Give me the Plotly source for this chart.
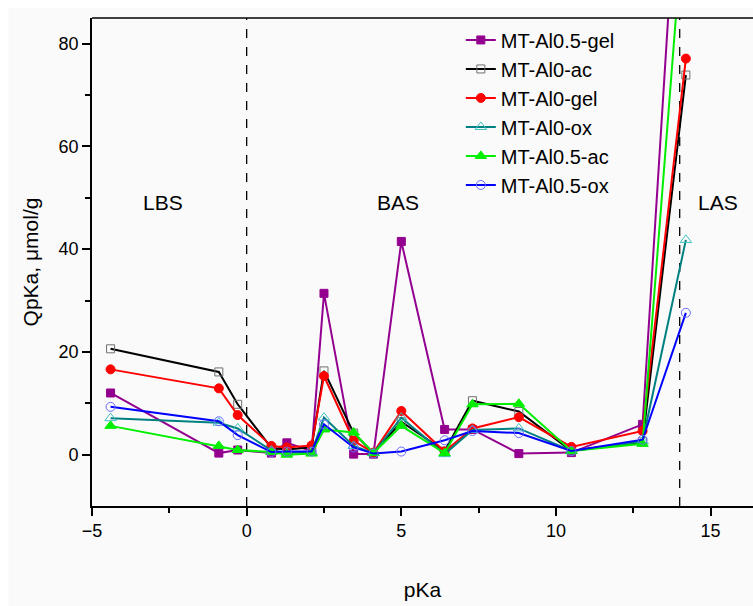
import plotly.graph_objects as go

# pKa values of the Hammett indicators
pka = [-4.4, -0.9, -0.29, 0.8, 1.3, 2.1, 2.5, 3.46, 4.1, 5.0, 6.4, 7.3, 8.8, 10.5, 12.8, 14.2]

# Amount of adsorbed indicator, umol/g
al05_gel = [12.0, 0.3, 0.9, 0.3, 2.3, 0.7, 31.4, 0.1, 0.1, 41.5, 4.9, 4.9, 0.2, 0.4, 5.9, 140.0]
al0_ac = [20.6, 16.1, 9.8, 1.3, 1.0, 1.4, 16.3, 4.2, 0.3, 6.4, 0.7, 10.5, 8.4, 0.7, 2.5, 73.9]
al0_gel = [16.6, 12.9, 7.7, 1.7, 1.4, 1.8, 15.3, 2.7, 0.4, 8.5, 0.6, 5.1, 7.3, 1.5, 4.6, 77.1]
al0_ox = [7.1, 6.2, 5.1, 0.8, 0.3, 0.5, 7.2, 1.7, 0.3, 7.2, 0.1, 4.8, 5.1, 0.7, 2.6, 41.8]
al05_ac = [5.6, 1.7, 0.9, 0.5, 0.0, 0.2, 4.9, 4.3, 0.3, 5.6, 0.3, 9.8, 9.9, 0.7, 2.1, 110.0]
al05_ox = [9.3, 6.5, 3.8, 0.5, 0.6, 0.6, 5.9, 1.4, 0.2, 0.6, 2.8, 4.6, 4.2, 0.7, 2.9, 27.6]

series = [
    ("MT-Al0.5-gel", al05_gel, "#93008f", dict(symbol="square", size=8, color="#93008f")),
    ("MT-Al0-ac", al0_ac, "#000000", dict(symbol="square-open", size=8, color="#707070")),
    ("MT-Al0-gel", al0_gel, "#ff0000", dict(symbol="circle", size=9, color="#ff0000")),
    ("MT-Al0-ox", al0_ox, "#008080", dict(symbol="triangle-up-open", size=10, color="#40c0c0")),
    ("MT-Al0.5-ac", al05_ac, "#00ee00", dict(symbol="triangle-up", size=10, color="#00ee00")),
    ("MT-Al0.5-ox", al05_ox, "#0000ff", dict(symbol="circle-open", size=9, color="#6b6bff")),
]

FONT = "Liberation Sans, Arial, sans-serif"

fig = go.Figure()
for name, vals, col, mk in series:
    fig.add_trace(go.Scatter(
        x=pka, y=vals, name=name, mode="lines+markers",
        line=dict(color=col, width=2),
        marker=dict(line=dict(width=1, color=mk["color"]), **mk),
        legendgroup=name,
        cliponaxis=True,
    ))

# Region boundaries
for xv in (0, 14):
    fig.add_shape(type="line", x0=xv, x1=xv, y0=-10, y1=85, xref="x", yref="y",
                  line=dict(color="black", width=1.3, dash="dash"), layer="below")

# Region labels
for txt, xv in (("LBS", -2.7), ("BAS", 4.9), ("LAS", 15.25)):
    fig.add_annotation(x=xv, y=49, text=txt, showarrow=False,
                       font=dict(family=FONT, size=21, color="black"))

axis_common = dict(
    showline=True, linecolor="black", linewidth=1.6, mirror=False,
    ticks="outside", ticklen=8, tickwidth=1.6, tickcolor="black",
    showgrid=False, zeroline=False,
    tickfont=dict(family=FONT, size=18, color="black"),
)

fig.update_xaxes(
    range=[-5, 16.37], tickvals=[-5, 0, 5, 10, 15],
    minor=dict(tickvals=[-2.5, 2.5, 7.5, 12.5], ticks="outside", ticklen=5,
               tickwidth=1.6, tickcolor="black"),
    title=dict(text="pKa", font=dict(family=FONT, size=21, color="black"), standoff=42),
    **axis_common,
)
fig.update_yaxes(
    range=[-10, 85], tickvals=[0, 20, 40, 60, 80],
    minor=dict(tickvals=[10, 30, 50, 70], ticks="outside", ticklen=5,
               tickwidth=1.6, tickcolor="black"),
    title=dict(text="QpKa, μmol/g", font=dict(family=FONT, size=21, color="black"), standoff=14),
    **axis_common,
)

# Top frame line
fig.add_shape(type="line", x0=0, x1=1, y0=1, y1=1, xref="paper", yref="paper",
              line=dict(color="black", width=1.6))

# Thin white border along the top and left edges of the page
fig.add_shape(type="rect", xref="paper", yref="paper", x0=-0.14, x1=-0.1265, y0=-0.21, y1=1.04,
              fillcolor="white", line=dict(width=0), layer="below")
fig.add_shape(type="rect", xref="paper", yref="paper", x0=-0.14, x1=1.0, y0=1.0211, y1=1.04,
              fillcolor="white", line=dict(width=0), layer="below")

fig.update_layout(
    width=753, height=606,
    margin=dict(l=92, r=0, t=18, b=100),
    paper_bgcolor="#fafafa", plot_bgcolor="#fafafa",
    font=dict(family=FONT, color="black"),
    legend=dict(
        x=0.558, y=0.995, xanchor="left", yanchor="top",
        bgcolor="rgba(0,0,0,0)", font=dict(family=FONT, size=20, color="black"),
        traceorder="grouped", tracegroupgap=0,
    ),
    showlegend=True,
)

fig.write_html("out.html")
